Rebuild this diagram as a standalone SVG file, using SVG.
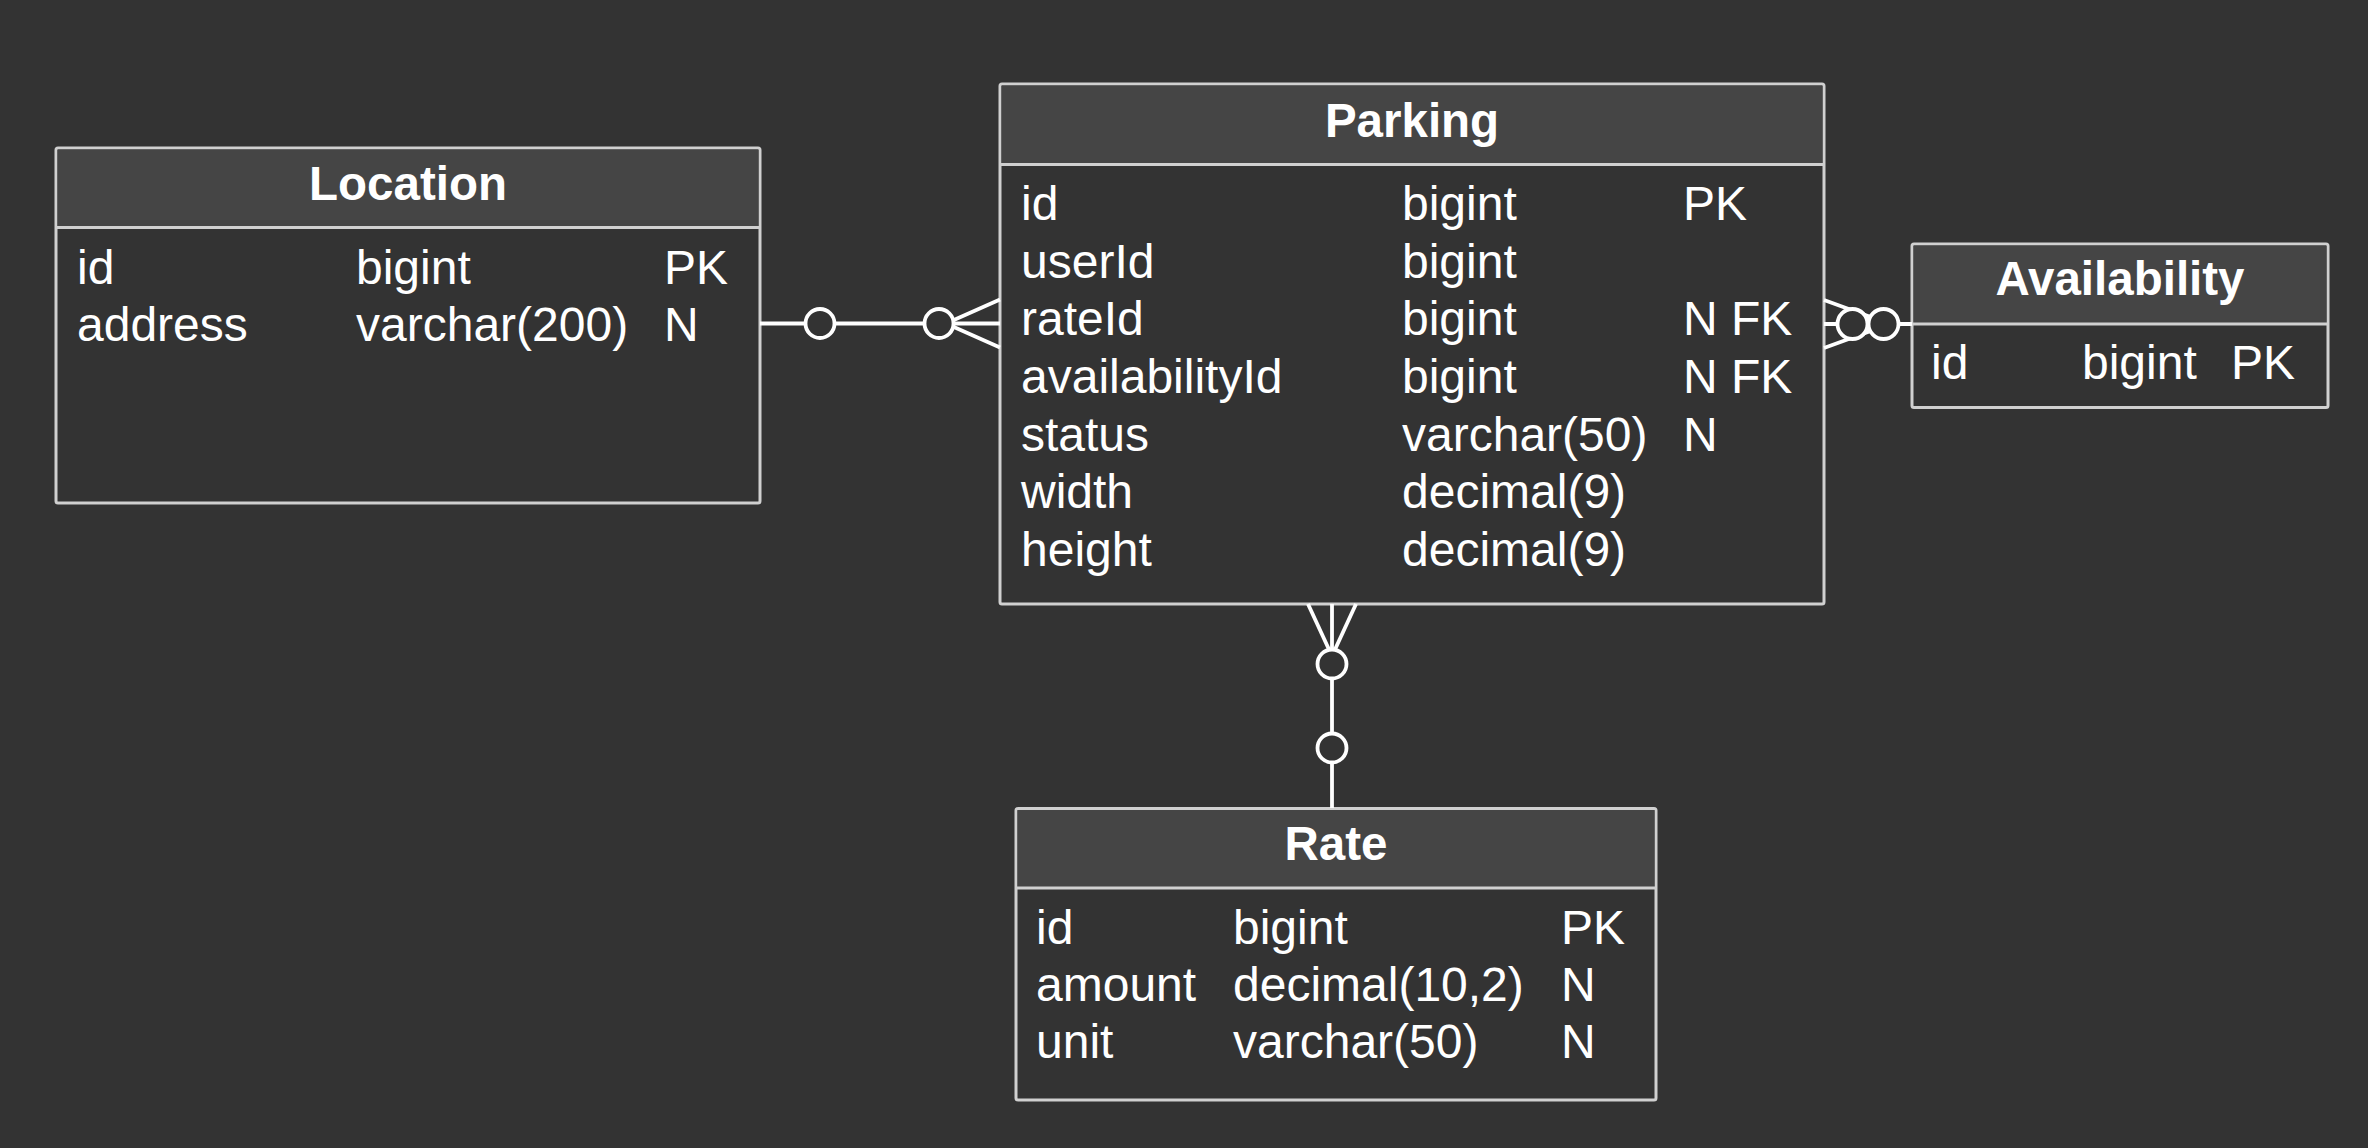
<svg xmlns="http://www.w3.org/2000/svg" width="2368" height="1148" viewBox="0 0 2368 1148">
<style>
.bg{fill:#333333}
.box{fill:#333333;stroke:#d0d0d0;stroke-width:3}
.hdr{fill:#454545}
.sep{stroke:#d0d0d0;stroke-width:3}
.t{font-family:"Liberation Sans",Arial,Helvetica,sans-serif;font-size:48px;fill:#ffffff}
.h{font-family:"Liberation Sans",Arial,Helvetica,sans-serif;font-size:47.5px;font-weight:bold;fill:#ffffff;text-anchor:middle}
.ln{stroke:#ffffff;stroke-width:3.8;fill:none}
.c{fill:#333333;stroke:#ffffff;stroke-width:3.8}
</style>
<rect class="bg" x="0" y="0" width="2368" height="1148"/>

<g id="Location">
<rect class="box" x="56" y="148" width="704" height="355" rx="2"/>
<rect class="hdr" x="57.5" y="149.5" width="701" height="78"/>
<line class="sep" x1="56" y1="227.5" x2="760" y2="227.5"/>
<text class="h" x="408" y="200">Location</text>
<text class="t" x="77" y="284">id</text><text class="t" x="356" y="284">bigint</text><text class="t" x="664" y="284">PK</text>
<text class="t" x="77" y="341">address</text><text class="t" x="356" y="341">varchar(200)</text><text class="t" x="664" y="341">N</text>
</g>

<g id="Parking">
<rect class="box" x="1000" y="84" width="824" height="520" rx="2"/>
<rect class="hdr" x="1001.5" y="85.5" width="821" height="78.5"/>
<line class="sep" x1="1000" y1="164.5" x2="1824" y2="164.5"/>
<text class="h" x="1412" y="137">Parking</text>
<text class="t" x="1021" y="220">id</text><text class="t" x="1402" y="220">bigint</text><text class="t" x="1683" y="220">PK</text>
<text class="t" x="1021" y="277.5">userId</text><text class="t" x="1402" y="277.5">bigint</text>
<text class="t" x="1021" y="335">rateId</text><text class="t" x="1402" y="335">bigint</text><text class="t" x="1683" y="335">N FK</text>
<text class="t" x="1021" y="392.5">availabilityId</text><text class="t" x="1402" y="392.5">bigint</text><text class="t" x="1683" y="392.5">N FK</text>
<text class="t" x="1021" y="450.5">status</text><text class="t" x="1402" y="450.5">varchar(50)</text><text class="t" x="1683" y="450.5">N</text>
<text class="t" x="1021" y="508">width</text><text class="t" x="1402" y="508">decimal(9)</text>
<text class="t" x="1021" y="566">height</text><text class="t" x="1402" y="566">decimal(9)</text>
</g>

<g id="Availability">
<rect class="box" x="1912" y="244" width="416" height="163.5" rx="2"/>
<rect class="hdr" x="1913.5" y="245.5" width="413" height="78"/>
<line class="sep" x1="1912" y1="324" x2="2328" y2="324"/>
<text class="h" x="2120" y="295">Availability</text>
<text class="t" x="1931" y="379">id</text><text class="t" x="2082" y="379">bigint</text><text class="t" x="2231" y="379">PK</text>
</g>

<g id="Rate">
<rect class="box" x="1016" y="808.5" width="640" height="291.5" rx="2"/>
<rect class="hdr" x="1017.5" y="810" width="637" height="77.5"/>
<line class="sep" x1="1016" y1="888" x2="1656" y2="888"/>
<text class="h" x="1336" y="860">Rate</text>
<text class="t" x="1036" y="944">id</text><text class="t" x="1233" y="944">bigint</text><text class="t" x="1561" y="944">PK</text>
<text class="t" x="1036" y="1001">amount</text><text class="t" x="1233" y="1001">decimal(10,2)</text><text class="t" x="1561" y="1001">N</text>
<text class="t" x="1036" y="1058">unit</text><text class="t" x="1233" y="1058">varchar(50)</text><text class="t" x="1561" y="1058">N</text>
</g>

<g id="connectors">
<g id="Location-Parking">
<line class="ln" x1="760" y1="323.5" x2="1000" y2="323.5"/>
<line class="ln" x1="1000" y1="299.5" x2="946" y2="323.5"/>
<line class="ln" x1="1000" y1="347.5" x2="946" y2="323.5"/>
<circle class="c" cx="820" cy="323.5" r="14.5"/>
<circle class="c" cx="939" cy="323.5" r="14.5"/>
</g>
<g id="Parking-Availability">
<line class="ln" x1="1824" y1="324" x2="1912" y2="324"/>
<line class="ln" x1="1824" y1="300" x2="1890" y2="324"/>
<line class="ln" x1="1824" y1="348" x2="1890" y2="324"/>
<circle class="c" cx="1852.5" cy="324" r="15"/>
<circle class="c" cx="1883.5" cy="324" r="15"/>
</g>
<g id="Rate-Parking">
<line class="ln" x1="1332" y1="604" x2="1332" y2="808"/>
<line class="ln" x1="1308" y1="604" x2="1332" y2="656"/>
<line class="ln" x1="1356" y1="604" x2="1332" y2="656"/>
<circle class="c" cx="1332" cy="664" r="14.5"/>
<circle class="c" cx="1332" cy="748" r="14.5"/>
</g>
</g>
</svg>
